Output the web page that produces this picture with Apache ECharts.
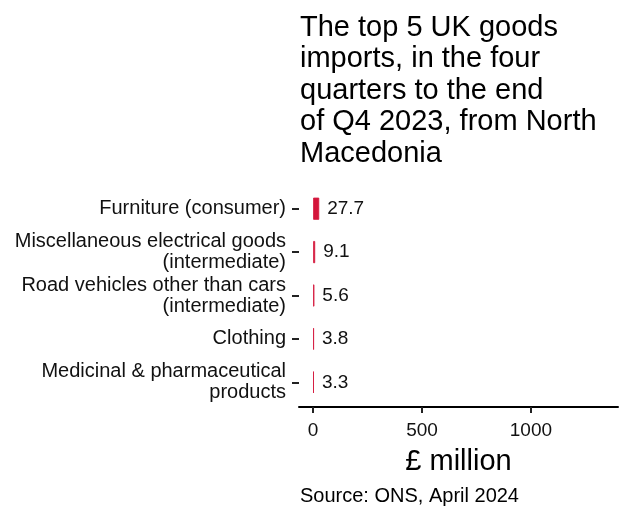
<!DOCTYPE html>
<html>
<head>
<meta charset="utf-8">
<script src="https://cdn.jsdelivr.net/npm/echarts@6/dist/echarts.min.js"></script>
<style>
html,body{margin:0;padding:0;background:#fff;}
#chart{width:619px;height:506px;}
</style>
</head>
<body>
<div id="chart"></div>
<script>
const categories = [
  'Furniture (consumer)',
  'Miscellaneous electrical goods\n(intermediate)',
  'Road vehicles other than cars\n(intermediate)',
  'Clothing',
  'Medicinal & pharmaceutical\nproducts'
];
const values = [27.7, 9.1, 5.6, 3.8, 3.3];
const xTicks = [0, 500, 1000];
const titleText = 'The top 5 UK goods\nimports, in the four\nquarters to the end\nof Q4 2023, from North\nMacedonia';
const sourceText = 'Source: ONS, April 2024';
const axisName = '£ million';

const FONT = '"Liberation Sans", Arial, sans-serif';
const chart = echarts.init(document.getElementById('chart'));
chart.setOption({
  animation: false,
  backgroundColor: '#fff',
  textStyle: { fontFamily: FONT },
  title: [
    { text: titleText, left: 300, top: 12, padding: 0,
      textStyle: { fontFamily: FONT, fontSize: 29, fontWeight: 'normal', lineHeight: 31.5, color: '#000' } },
    { text: sourceText, left: 300, top: 486, padding: 0,
      textStyle: { fontFamily: FONT, fontSize: 20, fontWeight: 'normal', color: '#000' } }
  ],
  grid: { left: 299, right: 1, top: 187, height: 217, containLabel: false },
  xAxis: {
    type: 'value', min: -65, max: 1400, offset: 3,
    name: axisName, nameLocation: 'middle', nameGap: 40,
    nameTextStyle: { fontFamily: FONT, fontSize: 29, color: '#000' },
    axisLine: { show: true, onZero: false, lineStyle: { color: '#000', width: 2 } },
    axisTick: { show: true, length: 6, customValues: xTicks, lineStyle: { color: '#222', width: 2 } },
    axisLabel: { customValues: xTicks, margin: 14, fontSize: 19, color: '#111', fontFamily: FONT,
      formatter: v => String(v) },
    splitLine: { show: false }
  },
  yAxis: {
    type: 'category', data: categories, inverse: true,
    axisLine: { show: false, onZero: false },
    axisTick: { show: true, alignWithLabel: true, length: 7, lineStyle: { color: '#222', width: 2 } },
    axisLabel: { margin: 13, fontSize: 20, lineHeight: 21, color: '#111', fontFamily: FONT, align: 'right' },
    splitLine: { show: false }
  },
  series: [{
    type: 'bar', data: values, barWidth: '51%',
    itemStyle: { color: '#d4153b', borderColor: '#d4153b', borderWidth: 0.8 },
    label: { show: true, position: 'right', distance: 8, fontSize: 19, color: '#111', fontFamily: FONT,
      formatter: p => String(p.value) }
  }]
});
</script>
</body>
</html>
